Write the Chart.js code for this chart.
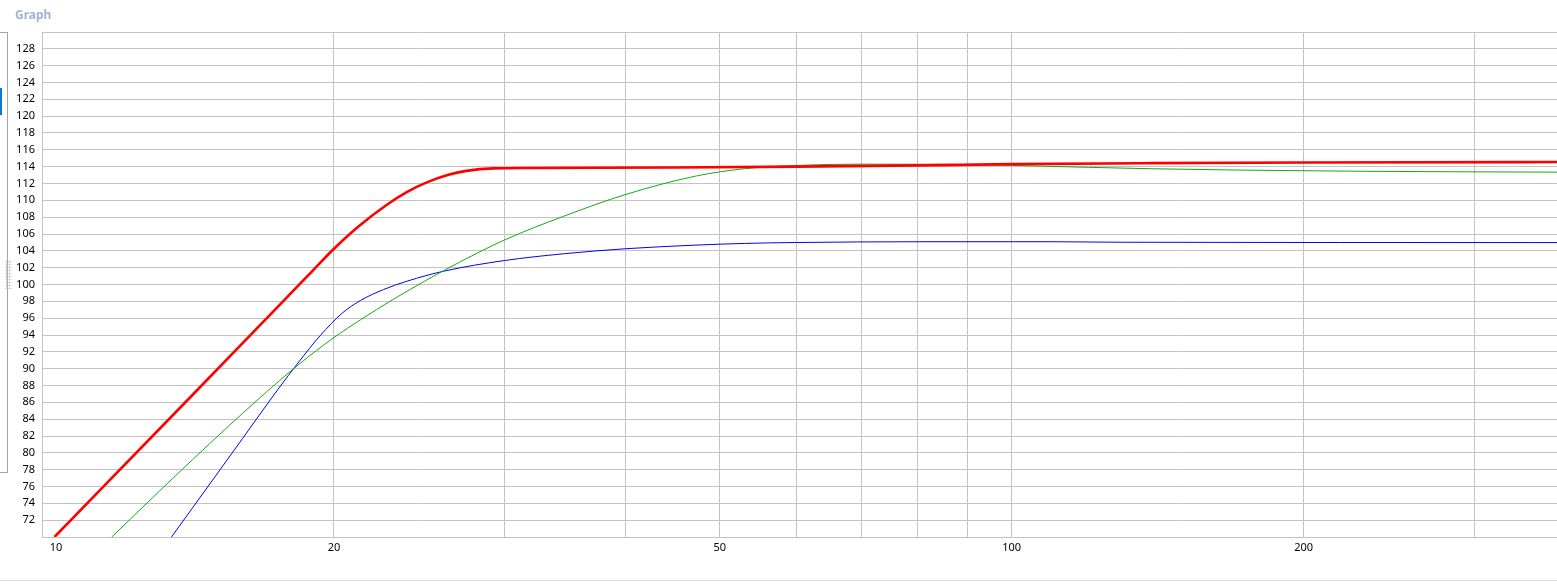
<!DOCTYPE html>
<html>
<head>
<meta charset="utf-8">
<script src="https://cdn.jsdelivr.net/npm/chart.js@4/dist/chart.umd.min.js"></script>
<style>
  html, body { margin: 0; padding: 0; background: #fff; width: 1557px; height: 586px; overflow: hidden; }
  #wrap { position: relative; width: 1557px; height: 586px; }
  #graph { position: absolute; left: 0; top: 0; }
  .title { position: absolute; left: 15px; top: 6px; font: bold 12px 'Segoe UI', 'Noto Sans', sans-serif; color: #9bb5d2; }
  .panel { position: absolute; left: -1px; top: 32px; width: 8px; height: 439px; border: 1px solid #a4a4a4; border-left: none; }
  .accent { position: absolute; left: 0; top: 88px; width: 2px; height: 27px; background: #0a78d4; }
  .grip { position: absolute; left: 5px; top: 260px; width: 7px; height: 29px;
          background-image: radial-gradient(circle, #c4c4c4 0.9px, transparent 1.1px); background-size: 3px 3px; }
  .foot { position: absolute; left: 0; top: 580px; width: 1557px; height: 1px; background: #dcdcdc; }
</style>
</head>
<body>
<div id="wrap">
  <canvas id="graph" width="1557" height="586"></canvas>
  <div class="title">Graph</div>
  <div class="panel"></div>
  <div class="accent"></div>
  <div class="grip"></div>
  <div class="foot"></div>
</div>
<script>
// frequency (Hz) / level (dB)
const RED_FREQ = [10.3, 14, 18, 19, 20, 21.2, 22.7, 23.8, 24.9, 26.2, 27.4, 29.2, 32, 45, 60, 80, 100, 140, 200, 365];
const RED_DB   = [70, 85.8, 98.8, 101.6, 104.25, 106.9, 109.5, 111.0, 112.1, 113.0, 113.5, 113.8, 113.85, 113.9, 114.0, 114.15, 114.3, 114.42, 114.5, 114.55];

const GREEN_FREQ = [11.8, 14.3, 16.8, 18.4, 20, 21.3, 23, 24.9, 27, 30, 34.5, 40, 47.3, 53, 60, 70, 85, 100, 120, 140, 170, 230, 365];
const GREEN_DB   = [70, 79.2, 86.6, 90.5, 93.7, 95.8, 98.2, 100.5, 102.7, 105.3, 108.1, 110.7, 112.9, 113.75, 114.15, 114.3, 114.28, 114.15, 113.92, 113.75, 113.6, 113.45, 113.35];

const BLUE_FREQ = [13.6, 16.1, 17.5, 18.4, 19.35, 20.4, 21.3, 22.5, 23.8, 26, 30, 34.5, 40, 47, 53, 60, 80, 110, 130, 365];
const BLUE_DB   = [70, 81.7, 87.5, 90.8, 93.9, 96.6, 98.1, 99.4, 100.4, 101.6, 102.85, 103.65, 104.25, 104.67, 104.88, 104.99, 105.08, 105.08, 105.02, 104.98];

const X_TICKS  = [10, 20, 30, 40, 50, 60, 70, 80, 90, 100, 200, 300];
const X_LABELS = [10, 20, 50, 100, 200];

const GRID = '#c3c3c3';
const FONT = { family: "'Segoe UI', 'Noto Sans', sans-serif", size: 11 };

function points(freq, db) {
  return freq.map((f, i) => ({ x: f, y: db[i] }));
}

function line(data, color, width) {
  return {
    data,
    borderColor: color,
    borderWidth: width,
    pointRadius: 0,
    fill: false,
    cubicInterpolationMode: 'monotone'
  };
}

new Chart(document.getElementById('graph').getContext('2d'), {
  type: 'line',
  data: {
    datasets: [
      line(points(RED_FREQ, RED_DB), '#ff0000', 2.6),
      line(points(GREEN_FREQ, GREEN_DB), '#14aa14', 1),
      line(points(BLUE_FREQ, BLUE_DB), '#0000f0', 1)
    ]
  },
  options: {
    responsive: false,
    animation: false,
    layout: { padding: { top: 32, left: 0, right: 0, bottom: 0 } },
    plugins: { legend: { display: false }, tooltip: { enabled: false } },
    scales: {
      x: {
        type: 'logarithmic',
        min: 10,
        max: 365,
        afterBuildTicks: s => { s.ticks = X_TICKS.map(v => ({ value: v })); },
        afterFit: s => { s.height = 49; },
        grid: { color: GRID, drawTicks: false },
        border: { color: GRID },
        ticks: {
          color: '#000',
          font: FONT,
          padding: 4,
          autoSkip: false,
          maxRotation: 0,
          callback: v => !X_LABELS.includes(v) ? '' : v === 10 ? '\u2007\u2007\u2007\u2007 10' : String(v)
        }
      },
      y: {
        min: 70,
        max: 130,
        afterFit: s => { s.width = 42; },
        grid: { color: GRID, drawTicks: false },
        border: { color: GRID },
        ticks: {
          stepSize: 2,
          color: '#000',
          font: FONT,
          padding: 7,
          autoSkip: false,
          callback: v => (v === 70 || v === 130) ? '' : v
        }
      }
    }
  }
});
</script>
</body>
</html>
